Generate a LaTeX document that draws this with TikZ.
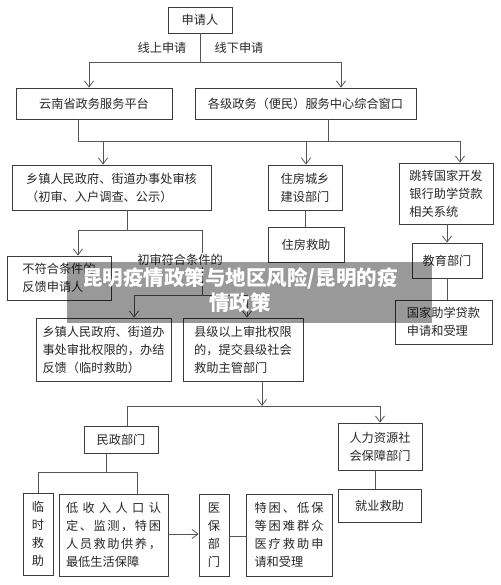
\documentclass[tikz,border=0pt]{standalone}
\usepackage{fontspec}
\setmainfont{Noto Sans CJK SC}
\usetikzlibrary{arrows.meta}
\definecolor{txtc}{RGB}{40,40,40}
\definecolor{linec}{RGB}{85,85,85}
\definecolor{boxc}{RGB}{60,60,60}
\newcommand\jst[2]{\makebox[#1][s]{#2}}
\tikzset{
  box/.style={draw=boxc, line width=0.8pt, inner sep=0pt, text=txtc, align=center,
    font=\fontsize{12.2}{18}\selectfont},
  lbox/.style={box, align=left},
  ln/.style={draw=linec, line width=0.8pt},
  arr/.style={ln, -{Straight Barb[length=6pt,width=9pt]}},
  lbl/.style={inner sep=0pt, text=txtc, font=\fontsize{12.2}{18}\selectfont},
  bantext/.style={inner sep=0pt, text=white, align=center,
    font=\fontsize{20.5}{25}\selectfont\bfseries},
}
\begin{document}
\begin{tikzpicture}[x=1pt,y=-1pt]
\useasboundingbox (0,0) rectangle (500,585);
\fill[white] (0,0) rectangle (500,585);

% nodes
\node[box, minimum width=64, minimum height=26] (A) at (200,20) {申请人};
\node[box, minimum width=156, minimum height=31] (B) at (94,103.5) {云南省政务服务平台};
\node[box, minimum width=221, minimum height=31] (C) at (305.5,103.5) {各级政务（便民）服务中心综合窗口};
\node[lbox, minimum width=199, minimum height=45] (D) at (111.5,187.5) {乡镇人民政府、街道办事处审核\\（初审、入户调查、公示）};
\node[box, minimum width=74, minimum height=45] (E) at (305,187.5) {住房城乡\\建设部门};
\node[lbox, minimum width=94, minimum height=61] (F) at (446,193.5) {跳转国家开发\\银行助学贷款\\相关系统};
\node[box, minimum width=76, minimum height=35] (G) at (306,245) {住房救助};
\node[box, minimum width=70, minimum height=35] (H) at (447,260.5) {教育部门};
\node[lbox, minimum width=97, minimum height=44] (I) at (443.5,322) {国家助学贷款\\申请和受理};
\node[lbox, minimum width=104, minimum height=44] (J) at (59,278) {不符合条件的\\反馈申请人};
\node[lbox, minimum width=135, minimum height=63] (K) at (103.5,349.5) {乡镇人民政府、街道办\\事处审批权限的，办结\\反馈（临时救助）};
\node[lbox, minimum width=120, minimum height=63] (L) at (243,349.5) {县级以上审批权限\\的，提交县级社会\\救助主管部门};
\node[box, minimum width=74, minimum height=27] (M) at (121,439.5) {民政部门};
\node[box, minimum width=84, minimum height=47] (N) at (380,446.5) {人力资源社\\会保障部门};
\node[box, minimum width=83, minimum height=33] (O) at (379.5,505.5) {就业救助};
\node[box, minimum width=30, minimum height=82] (P) at (38,534) {临\\时\\救\\助};
\node[lbox, minimum width=109, minimum height=82] (Q) at (113.5,535) {\jst{95pt}{低\hfill 收\hfill 入\hfill 人\hfill 口\hfill 认}\\\jst{95pt}{定\hfill 、\hfill 监\hfill 测\hfill ，\hfill 特\hfill 困}\\\jst{95pt}{人\hfill 员\hfill 救\hfill 助\hfill 供\hfill 养\hfill ，}\\最低生活保障};
\node[box, minimum width=30, minimum height=82] (R) at (214,535) {医\\保\\部\\门};
\node[lbox, minimum width=86, minimum height=82] (S) at (289,535) {\jst{69pt}{特\hfill 困\hfill 、\hfill 低\hfill 保}\\\jst{69pt}{等\hfill 困\hfill 难\hfill 群\hfill 众}\\\jst{69pt}{医\hfill 疗\hfill 救\hfill 助\hfill 申}\\请和受理};

\node[lbl] (l1) at (162,48) {线上申请};
\node[lbl] (l2) at (239,48) {线下申请};

% connectors: top
\coordinate (jA) at (200,62);
\coordinate (jAl) at (89,62);
\coordinate (jAr) at (341,62);
\draw[ln] (A.south) -- (jA);
\draw[ln] (jAl) -- (jAr);
\draw[arr] (jAl) -- (jAl |- B.north);
\draw[arr] (jAr) -- (jAr |- C.north);

\coordinate (jB) at (78,141);
\coordinate (jC) at (328,141);
\coordinate (jF) at (460,141);
\coordinate (jD) at (103,141);
\coordinate (jE) at (306,141);
\draw[ln] (jB |- B.south) -- (jB) -- (jF);
\draw[ln] (jC |- C.south) -- (jC);
\draw[arr] (jD) -- (jD |- D.north);
\draw[arr] (jE) -- (jE |- E.north);
\draw[arr] (jF) -- (jF |- F.north);

\draw[ln] (E.south) -- (E.south |- G.north);
\draw[arr] (H.north |- F.south) -- (H.north);
\draw[ln] (H.south) -- (H.south |- I.north);

% middle
\coordinate (jDd) at (127,230);
\coordinate (jJ) at (78,230);
\coordinate (jR) at (202,230);
\coordinate (jR2) at (202,295);
\coordinate (jK) at (134,295);
\coordinate (jL) at (247,295);
\draw[ln] (jDd |- D.south) -- (jDd);
\draw[ln] (jJ) -- (jR) -- (jR2);
\draw[arr] (jJ) -- (jJ |- J.north);
\draw[ln] (jK) -- (jL);
\draw[arr] (jK) -- (jK |- K.north);
\draw[arr] (jL) -- (jL |- L.north);
\node[lbl, fill=white, inner sep=1pt] (cs) at (180,260) {初审符合条件的};

% lower
\coordinate (jLd) at (262,406);
\coordinate (jM) at (127,406);
\coordinate (jN) at (380,406);
\draw[arr] (jLd |- L.south) -- (jLd);
\draw[ln] (jM) -- (jN);
\draw[ln] (jM) -- (jM |- M.north);
\draw[arr] (jN) -- (jN |- N.north);
\coordinate (jO) at (375,480);
\draw[ln] (jO |- N.south) -- (jO |- O.north);

\coordinate (jMd) at (106,472);
\coordinate (jP) at (38,472);
\coordinate (jQ) at (137,472);
\draw[ln] (jMd |- M.south) -- (jMd);
\draw[ln] (jP) -- (jQ);
\draw[ln] (jP) -- (jP |- P.north);
\draw[ln] (jQ) -- (jQ |- Q.north);
\coordinate (yq) at (0,534);
\draw[arr] (Q.east |- yq) -- (R.west |- yq);
\coordinate (yr) at (0,536);
\draw[ln] (R.east |- yr) -- (S.west |- yr);

% banner overlay
\fill[black, fill opacity=0.4] (67,262) rectangle (432,323);
\node[bantext] (ban) at (240,290.5) {昆明疫情政策与地区风险/昆明的疫\\情政策};
\end{tikzpicture}
\end{document}
